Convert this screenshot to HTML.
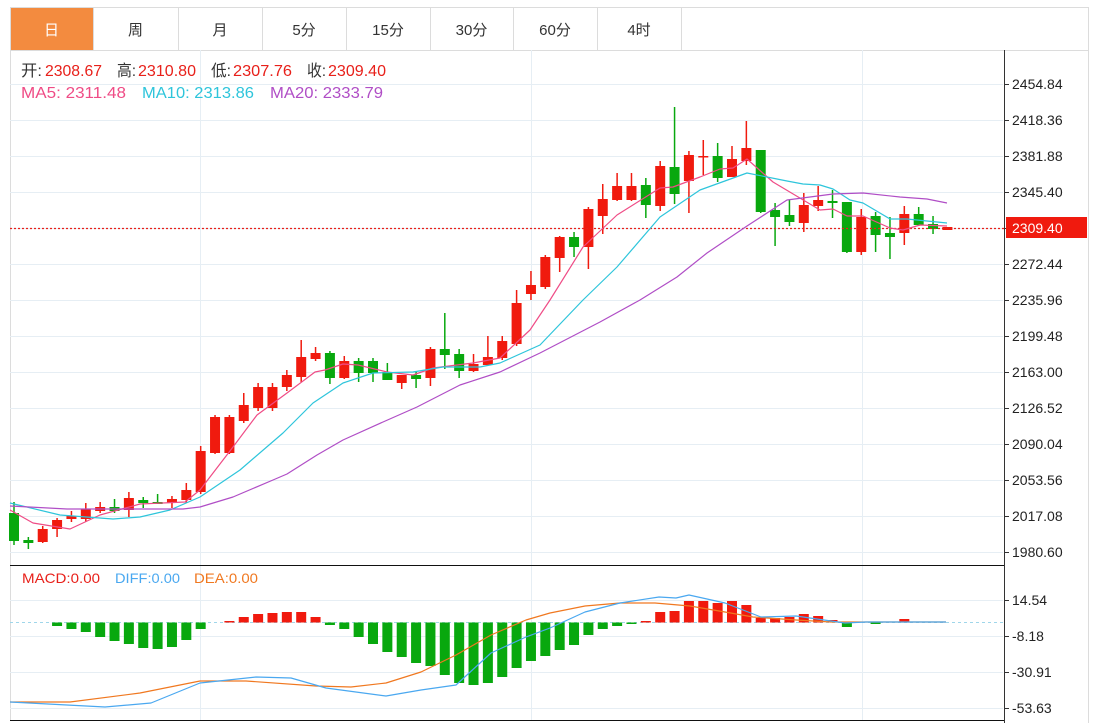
<!DOCTYPE html>
<html><head><meta charset="utf-8"><style>
html,body{margin:0;padding:0;background:#fff;width:1103px;height:723px;overflow:hidden;font-family:"Liberation Sans","Noto Sans CJK SC",sans-serif;}
svg{position:absolute;left:0;top:0}
</style></head><body>
<svg id="s" width="1103" height="723" xmlns="http://www.w3.org/2000/svg"></svg>
<script>
var s=document.getElementById('s');var h='';
function L(x1,y1,x2,y2,c,w,extra){h+='<line x1="'+x1+'" y1="'+y1+'" x2="'+x2+'" y2="'+y2+'" stroke="'+c+'" stroke-width="'+(w||1)+'" '+(extra||'')+'/>';}
function R(x,y,w,hh,c){h+='<rect x="'+x+'" y="'+y+'" width="'+w+'" height="'+hh+'" fill="'+c+'"/>';}
function T(x,y,t,c,sz,anc){h+='<text x="'+x+'" y="'+y+'" fill="'+c+'" font-size="'+(sz||14)+'" '+(anc?'text-anchor="'+anc+'"':'')+'>'+t+'</text>';}
function TL(x1,x2,y,t,c,sz){h+='<text x="'+x1+'" y="'+y+'" fill="'+c+'" font-size="'+sz+'" textLength="'+(x2-x1)+'" lengthAdjust="spacingAndGlyphs">'+t+'</text>';}
function P(pts,c){h+='<polyline fill="none" stroke="'+c+'" stroke-width="1.2" stroke-linejoin="round" points="'+pts.map(function(p){return p.join(',')}).join(' ')+'"/>';}
// tabs
R(10,7,84,43,'#f38b3f');
var tabs=['日','周','月','5分','15分','30分','60分','4时'];
var tx=[10,93,178,262,346,430,513,597,681];
L(10,7.5,1088,7.5,'#dcdcdc');L(10,50.5,1088,50.5,'#dcdcdc');
for(var i=0;i<tx.length;i++)L(tx[i]+.5,7,tx[i]+.5,50,'#dcdcdc');
for(i=0;i<8;i++)T((tx[i]+tx[i+1])/2,35,tabs[i],i==0?'#fff':'#333',15,'middle');
L(10.5,50,10.5,720,'#dcdcdc');L(1088.5,7,1088.5,723,'#dcdcdc');
// grids
var gy=[84,120,156,192,228,264,300,336,372,408,444,480,516,552];
gy.forEach(function(y){L(10,y+.5,1003,y+.5,'#e6eef4');});
[600,636,672,708].forEach(function(y){L(10,y+.5,1003,y+.5,'#e6eef4');});
[200,531,862].forEach(function(x){L(x+.5,50,x+.5,720,'#e6eef4');});
// axes
L(1004.5,50,1004.5,723,'#333');L(10,565.5,1004,565.5,'#111');L(10,720.5,1004,720.5,'#111');
var lab=['2454.84','2418.36','2381.88','2345.40','','2272.44','2235.96','2199.48','2163.00','2126.52','2090.04','2053.56','2017.08','1980.60'];
gy.forEach(function(y,k){L(1004,y+.5,1009,y+.5,'#333');if(lab[k])T(1012,y+5,lab[k],'#222',14);});
[[600,'14.54'],[636,'-8.18'],[672,'-30.91'],[708,'-53.63']].forEach(function(a){L(1004,a[0]+.5,1009,a[0]+.5,'#333');T(1012,a[0]+5,a[1],'#222',14);});
// header
TL(21,42,76,'开:','#333',16);TL(45,102,76,'2308.67','#e8201a',16);
TL(117,136,76,'高:','#333',16);TL(138,196,76,'2310.80','#e8201a',16);
TL(211,231,76,'低:','#333',16);TL(233,292,76,'2307.76','#e8201a',16);
TL(307,326,76,'收:','#333',16);TL(328,386,76,'2309.40','#e8201a',16);
TL(21,126,98,'MA5: 2311.48','#ef4c86',16);
TL(142,254,98,'MA10: 2313.86','#2ec5db',16);
TL(270,383,98,'MA20: 2333.79','#b04ec6',16);
TL(22,100,583,'MACD:0.00','#e8201a',14);
TL(115,180,583,'DIFF:0.00','#4aa8f0',14);
TL(194,258,583,'DEA:0.00','#f07820',14);
// candles
var C=[[513,541,502,545,0],[540,543,537,549,0],[529,542,526,543,1],[520,529,518,537,1],[516,519,511,522,1],[509,519,503,522,1],[507,511,502,513,1],[507,511,499,513,0],[498,510,492,517,1],[500,503,497,508,0],[502,504,494,504,0],[499,503,496,508,1],[490,500,483,503,1],[451,492,446,494,1],[417,453,415,454,1],[417,453,415,454,1],[405,421,393,423,1],[387,408,383,411,1],[387,408,383,411,1],[375,387,370,391,1],[357,377,340,382,1],[353,359,347,361,1],[353,378,351,384,0],[361,378,356,379,1],[361,373,358,382,0],[361,373,358,382,0],[372,380,363,380,0],[375,383,375,389,1],[375,379,372,388,0],[349,378,347,386,1],[349,355,313,369,0],[354,371,349,378,0],[364,371,354,372,1],[357,365,336,365,1],[341,358,336,360,1],[303,344,290,346,1],[285,294,271,300,1],[257,287,255,289,1],[237,258,236,272,1],[237,247,232,257,0],[209,247,207,269,1],[199,216,184,234,1],[186,200,173,201,1],[186,200,173,201,1],[185,205,178,218,0],[166,206,161,211,1],[167,194,107,204,0],[155,181,151,213,1],[156,157,140,175,1],[156,178,143,182,0],[159,177,146,177,1],[148,161,121,165,1],[150,212,150,213,0],[210,217,203,246,0],[215,222,200,226,0],[205,223,193,232,1],[200,206,186,211,1],[201,203,190,218,0],[202,252,202,253,0],[217,252,209,255,1],[216,235,212,252,0],[233,237,217,259,0],[214,233,206,245,1],[214,225,207,226,0],[224,229,216,234,0],[227,230,227,230,1]];
function X(i){return 14+14.36*i;}
C.forEach(function(c,i){var x=X(i),col=c[4]?'#f01a0e':'#08a80e';L(x,c[2],x,c[3],col,1.5);R(x-5,c[0],10,Math.max(1.5,c[1]-c[0]),col);});
// price line
L(10,228.5,1004,228.5,'#e8201a',1.2,'stroke-dasharray="2,2"');
R(1006,217,81,21,'#f01a0e');T(1012,233,'2309.40','#fff',14);
// MAs
P([[10,510],[33,523],[70,529],[100,515],[140,504],[185,502],[200,490],[233,447],[257,415],[287,393],[315,372],[325,370],[343,364],[358,365],[387,372],[413,375],[433,368],[473,363],[500,358],[530,330],[550,300],[583,247],[617,215],[660,188],[673,187],[700,177],[720,169],[733,168],[747,159],[773,182],[820,210],[833,209],[847,216],[863,216],[890,228],[903,230],[920,225],[947,226]],'#ef4c86');
P([[10,503],[60,515],[113,519],[140,517],[170,510],[200,497],[240,470],[283,433],[313,403],[343,383],[373,373],[413,372],[443,367],[480,367],[500,363],[540,345],[583,300],[617,267],[660,217],[700,190],[747,173],[787,181],[803,184],[820,185],[833,189],[850,200],[863,203],[890,219],[907,219],[947,223]],'#2ec5db');
P([[10,506],[67,509],[183,509],[200,507],[233,497],[273,480],[287,474],[317,455],[343,440],[383,422],[417,407],[460,385],[500,372],[540,353],[600,322],[640,300],[677,277],[707,253],[747,226],[787,200],[833,194],[863,193],[900,197],[927,199],[947,203]],'#b04ec6');
// MACD
L(10,622.5,1003,622.5,'#9fd6ea',1,'stroke-dasharray="3,3"');
var M=[623,623,623,626,629,632,637,641,644,648,649,647,640,629,622,621,617,614,613,612,612,617,625,629,637,644,652,657,663,666,675,683,685,683,677,668,661,656,650,645,635,629,626,624,621,612,611,601,601,603,601,605,618,618,617,614,616,620,627,623,624,622,619,622,622,622];
M.forEach(function(b,i){var x=X(i);if(Math.abs(b-622.5)<1)return;if(b>622.5)R(x-5,622.5,10,b-622.5,'#08a80e');else R(x-5,b,10,622.5-b,'#f01a0e');});
P([[10,702],[70,702],[140,693],[200,681],[246,681],[316,686],[351,687],[386,683],[421,672],[456,655],[491,635],[526,620],[550,613],[585,606],[620,603],[655,603],[690,606],[725,612],[753,617],[796,620],[831,622],[946,622]],'#f07820');
P([[10,702],[105,707],[151,703],[200,683],[256,677],[291,678],[326,688],[386,696],[421,690],[456,685],[491,653],[526,637],[550,628],[585,612],[620,603],[659,597],[676,598],[689,595],[725,603],[761,617],[796,616],[824,620],[845,623],[866,622],[901,622],[946,622]],'#4aa8f0');
s.innerHTML=h;
</script>
</body></html>
